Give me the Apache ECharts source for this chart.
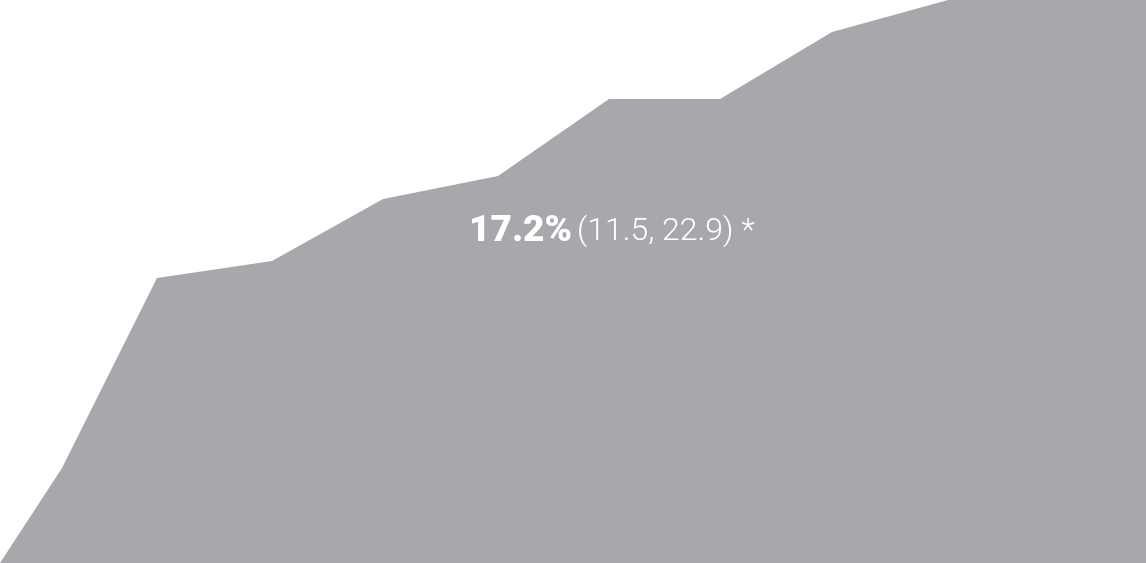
<!DOCTYPE html>
<html><head><meta charset="utf-8">
<script src="https://cdn.jsdelivr.net/npm/echarts@6/dist/echarts.min.js"></script>
<style>html,body{margin:0;padding:0;background:#fff}#c{width:1146px;height:563px}</style>
</head><body><div id="c"></div>
<script>
var xValues = [0, 62, 157, 272, 383, 498, 609, 720, 832, 948, 1146];
var yValues = [0, 95, 285, 302, 364, 387, 464, 464, 531, 563, 563];
var estimate = "17.2%";
var interval = "(11.5, 22.9) *";

var chart = echarts.init(document.getElementById('c'));
var pts = xValues.map(function(x, i){ return [x, yValues[i]]; });
chart.setOption({
  animation: false,
  grid: {left: 0, right: 0, top: 0, bottom: 0},
  xAxis: {type: 'value', min: 0, max: 1146, show: false},
  yAxis: {type: 'value', min: 0, max: 563, show: false},
  series: [{
    type: 'line', data: pts, showSymbol: false,
    lineStyle: {width: 0},
    areaStyle: {color: '#a7a8ab', opacity: 1},
    silent: true
  }],
  title: {
    left: 469, top: 212, padding: 0,
    text: '{b|' + estimate + '} {n|' + interval + '}',
    textStyle: {
      rich: {
        b: {fontFamily: 'Roboto', fontWeight: 900, fontSize: 37, color: '#fff', lineHeight: 40},
        n: {fontFamily: 'Roboto', fontWeight: 300, fontSize: 32, color: '#fff', lineHeight: 40}
      }
    }
  }
});
</script></body></html>
